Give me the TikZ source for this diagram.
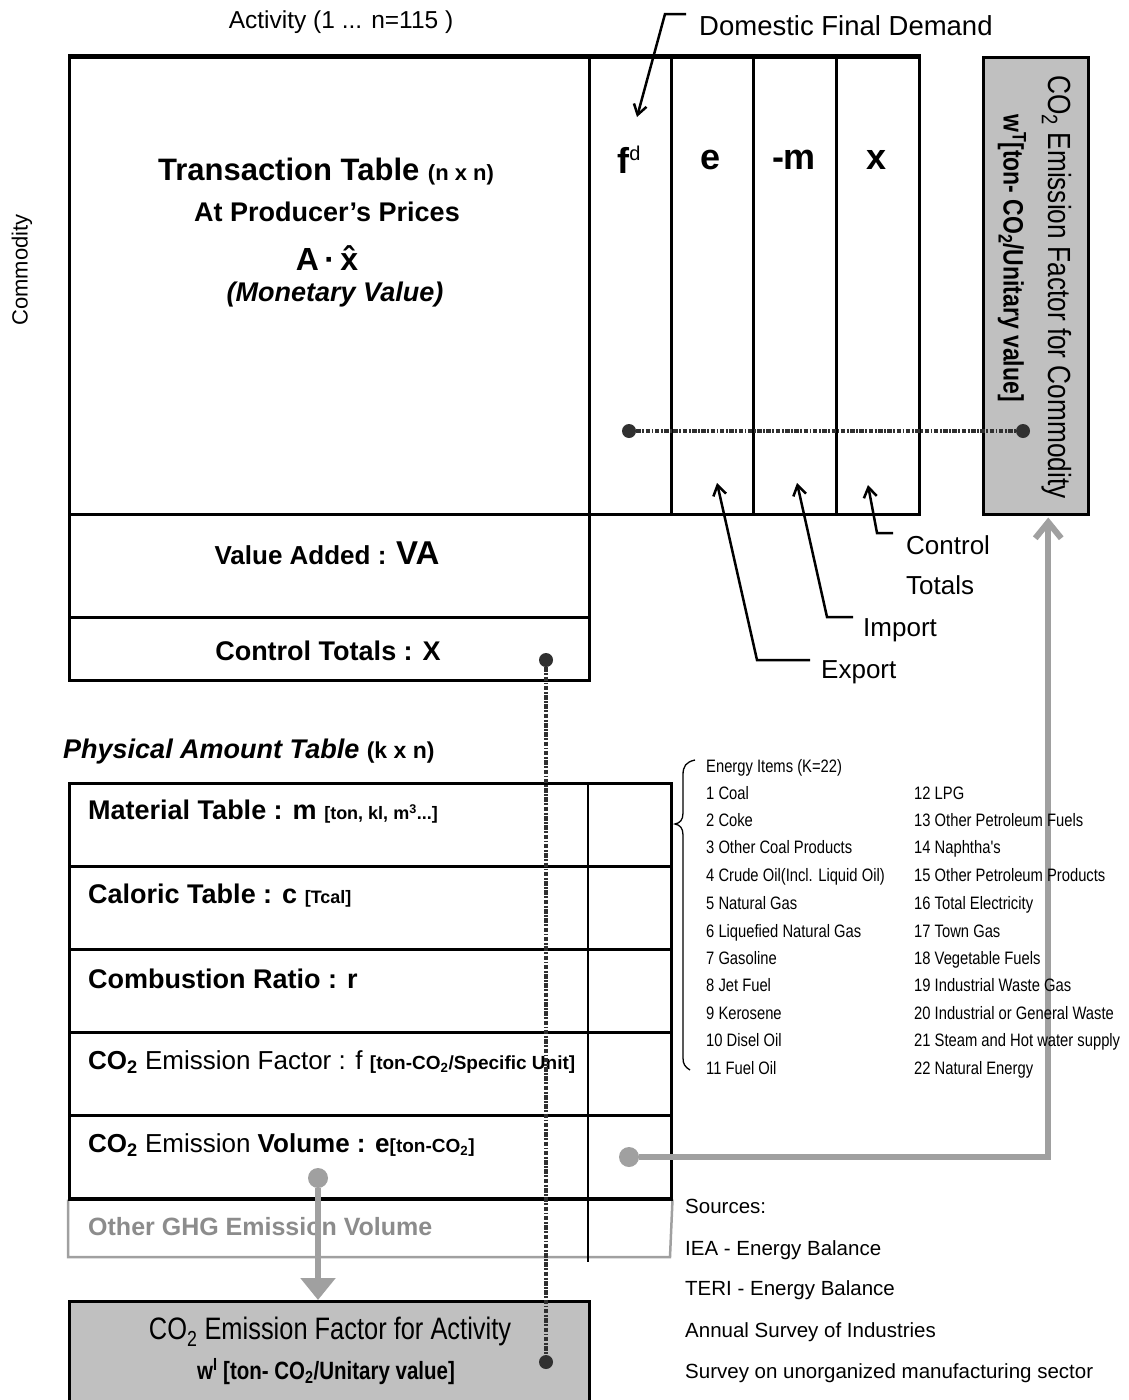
\documentclass[tikz,border=0pt]{standalone}
\usepackage{fontspec}
\setmainfont{Liberation Sans}
\newfontfamily\narrow[FakeStretch=0.82]{Liberation Sans}
\usetikzlibrary{arrows.meta}
\definecolor{boxgray}{HTML}{C0C0C0}
\definecolor{arrgray}{HTML}{A0A0A0}
\definecolor{dotgray}{HTML}{303030}
\definecolor{ghg}{HTML}{8C8C8C}
\newcommand\fs[1]{\fontsize{#1}{#1}\selectfont}
\begin{document}
\begin{tikzpicture}[x=1pt,y=-1pt,
  cell/.style={draw=black,line width=2.5pt,minimum width=#1,anchor=north west,inner sep=0pt},
  grayboxstyle/.style={draw=black,line width=2.5pt,fill=boxgray,anchor=north west,inner sep=0pt},
  leader/.style={draw=black,line width=2.5pt,-{Straight Barb[length=10pt,width=13pt,line width=2.5pt]}},
  dotline/.style={draw=dotgray,line width=3.2pt,dash pattern=on 4.5pt off 1.5pt on 1.8pt off 1.5pt},
  bigdot/.style={circle,fill=dotgray,inner sep=0pt,minimum size=14pt},
  gdot/.style={circle,fill=arrgray,inner sep=0pt,minimum size=20pt},
  garrow/.style={draw=arrgray,line width=6pt},
  txt/.style={inner sep=0pt},
  rowtxt/.style={inner sep=0pt,anchor=west},
  item/.style={inner sep=0pt,anchor=base west,font=\narrow\fs{18}},
  src/.style={inner sep=0pt,anchor=base west,font=\fs{20.5}},
  note/.style={inner sep=0pt,anchor=base west,font=\fs{26}},
  ]
\useasboundingbox (0,0) rectangle (1129,1400);
\fill[white] (0,0) rectangle (1129,1400);

% ---------- monetary table ----------
\node[cell=520pt,minimum height=457pt] (tt) at (68,56) {};
\node[cell=82pt,minimum height=457pt] (cfd) at (588,56) {};
\node[cell=82pt,minimum height=457pt] (ce) at (670,56) {};
\node[cell=83pt,minimum height=457pt] (cm) at (752,56) {};
\node[cell=83pt,minimum height=457pt] (cx) at (835,56) {};
\draw[line width=4pt] (tt.north west) -- (cx.north east);
\node[cell=520pt,minimum height=103pt] (va) at (68,513) {};
\node[cell=520pt,minimum height=63pt] (ct) at (68,616) {};
\node[grayboxstyle,minimum width=105pt,minimum height=457pt] (wc) at (982,56) {};

\node[txt] (tActivity) at (341,22) {\fs{24.5}Activity (1 ... n=115 )};
\node[txt,rotate=90] (tCommodity) at (22,270) {\fs{22}Commodity};

\node[txt] (tT1) at (326,172) {\fs{31}\bfseries Transaction Table \fs{22}(n x n)};
\node[txt] (tT2) at (327,212) {\fs{27}\bfseries At Producer's Prices};
\node[txt] (tT3) at (327,258) {\fs{32}\bfseries A\,·\,\^{x}};
\node[txt] (tT4) at (335,295) {\fs{27}\bfseries\itshape (Monetary Value)};
\node[txt] (tVA) at (327,553) {\fs{26}\bfseries Value Added : \fs{33}VA};
\node[txt] (tCT) at (328,651) {\fs{27}\bfseries Control Totals : X};

\node[txt] (tfd) at (629,160) {\fs{36}\bfseries f\raisebox{13pt}{\fs{20}\mdseries d}};
\node[txt] (te) at (711,160) {\fs{36}\bfseries e};
\node[txt] (tm) at (794,160) {\fs{36}\bfseries -m};
\node[txt] (tx) at (877,160) {\fs{36}\bfseries x};

\node[txt,rotate=-90] (tWC1) at (1057,287) {\narrow\fs{32}CO\textsubscript{2} Emission Factor for Commodity};
\node[txt,rotate=-90] (tWC2) at (1012,258) {\narrow\fs{28}\bfseries w\textsuperscript{T}[ton- CO\textsubscript{2}/Unitary value]};

% leaders
\node[note,font=\fs{27.5}] (tDFD) at (699,35) {Domestic Final Demand};
\coordinate (lD) at (686,14);
\draw[leader] (lD) -- (665,14) -- (637,117);
\node[note] (tCon) at (906,554) {Control};
\node[note] (tTot) at (906,594) {Totals};
\node[note] (tImp) at (863,636) {Import};
\node[note] (tExp) at (821,678) {Export};
\coordinate (lC) at (893,533);
\coordinate (lI) at (853,617);
\coordinate (lE) at (810,660);
\draw[leader] (lC) -- (877,533) -- (868,485);
\draw[leader] (lI) -- (827,617) -- (797,483);
\draw[leader] (lE) -- (757,660) -- (717,483);

% ---------- physical table ----------
\node[txt,anchor=west] (tPhys) at (63,752) {\fs{27}\bfseries\itshape Physical Amount Table \upshape\fs{23}(k x n)};
\node[cell=602pt,minimum height=83pt] (r1) at (68,782) {};
\node[cell=602pt,minimum height=83pt] (r2) at (68,865) {};
\node[cell=602pt,minimum height=83pt] (r3) at (68,948) {};
\node[cell=602pt,minimum height=83pt] (r4) at (68,1031) {};
\node[cell=602pt,minimum height=83pt] (r5) at (68,1114) {};
\draw[draw=arrgray,line width=2.5pt] (r5.south west) -- (68,1257) -- (670,1257) -- (r5.south east);
\coordinate (r6) at (68,1257);
\draw[line width=2.5pt] (588,782) -- (588,1262);
\draw[line width=2.5pt] (r5.south west) -- (r5.south east);

\node[rowtxt] (tR1) at (88,812) {\fs{27}\bfseries Material Table : m \fs{18}[ton, kl, m\textsuperscript{3}...]};
\node[rowtxt] (tR2) at (88,896) {\fs{27}\bfseries Caloric Table : c \fs{18}[Tcal]};
\node[rowtxt] (tR3) at (88,979) {\fs{27}\bfseries Combustion Ratio : r};
\node[rowtxt] (tR4) at (88,1062) {\fs{26}\bfseries CO\textsubscript{2}\mdseries\ Emission Factor : f \bfseries\fs{19}[ton-CO\textsubscript{2}/Specific Unit]};
\node[rowtxt] (tR5) at (88,1145) {\fs{26}\bfseries CO\textsubscript{2}\mdseries\ Emission\bfseries\ Volume : e\fs{19}[ton-CO\textsubscript{2}]};
\node[rowtxt,text=ghg] (tR6) at (88,1227) {\fs{25}\bfseries Other GHG Emission Volume};

% bottom grey box
\node[grayboxstyle,minimum width=520pt,minimum height=110pt] (wa) at (68,1300) {};
\node[txt] (tWA1) at (330,1332) {\narrow\fs{31}CO\textsubscript{2} Emission Factor for Activity};
\node[txt] (tWA2) at (326,1372) {\narrow\fs{25}\bfseries w\textsuperscript{I} [ton- CO\textsubscript{2}/Unitary value]};

% dotted connectors
\node[bigdot] (d1) at (629,431) {};
\node[bigdot] (d2) at (1023,431) {};
\node[bigdot] (d3) at (546,660) {};
\node[bigdot] (d4) at (546,1362) {};
\draw[dotline] (d1) -- (d2);
\draw[dotline] (d3) -- (d4);

% gray arrows
\node[gdot] (g1) at (629,1157) {};
\node[gdot] (g2) at (318,1178) {};
\draw[garrow,-{Straight Barb[length=16pt,width=26pt,line width=6pt]}] (g1) -| ([xshift=12.5pt,yshift=-2pt]wc.south);
\draw[garrow,-{Triangle[length=22pt,width=34pt]}] (g2) -- (g2 |- wa.north);

% energy list
\draw[line width=1.3pt] (695,760) .. controls (686,762) and (683,766) .. (683,775) -- (683,813) .. controls (683,820) and (680,823) .. (675,824) .. controls (680,825) and (683,828) .. (683,835) -- (683,1058) .. controls (683,1064) and (685,1067) .. (690,1070);
\node[item] (e0) at (706,772) {Energy Items (K=22)};
\node[item] (e1) at (706,799) {1 Coal};
\node[item] (e2) at (706,826) {2 Coke};
\node[item] (e3) at (706,853) {3 Other Coal Products};
\node[item] (e4) at (706,881) {4 Crude Oil(Incl. Liquid Oil)};
\node[item] (e5) at (706,909) {5 Natural Gas};
\node[item] (e6) at (706,937) {6 Liquefied Natural Gas};
\node[item] (e7) at (706,964) {7 Gasoline};
\node[item] (e8) at (706,991) {8 Jet Fuel};
\node[item] (e9) at (706,1019) {9 Kerosene};
\node[item] (e10) at (706,1046) {10 Disel Oil};
\node[item] (e11) at (706,1074) {11 Fuel Oil};
\node[item] (e12) at (914,799) {12 LPG};
\node[item] (e13) at (914,826) {13 Other Petroleum Fuels};
\node[item] (e14) at (914,853) {14 Naphtha's};
\node[item] (e15) at (914,881) {15 Other Petroleum Products};
\node[item] (e16) at (914,909) {16 Total Electricity};
\node[item] (e17) at (914,937) {17 Town Gas};
\node[item] (e18) at (914,964) {18 Vegetable Fuels};
\node[item] (e19) at (914,991) {19 Industrial Waste Gas};
\node[item] (e20) at (914,1019) {20 Industrial or General Waste};
\node[item] (e21) at (914,1046) {21 Steam and Hot water supply};
\node[item] (e22) at (914,1074) {22 Natural Energy};

% sources
\node[src] (s0) at (685,1213) {Sources:};
\node[src] (s1) at (685,1255) {IEA - Energy Balance};
\node[src] (s2) at (685,1295) {TERI - Energy Balance};
\node[src] (s3) at (685,1337) {Annual Survey of Industries};
\node[src] (s4) at (685,1378) {Survey on unorganized manufacturing sector};
\end{tikzpicture}
\end{document}
